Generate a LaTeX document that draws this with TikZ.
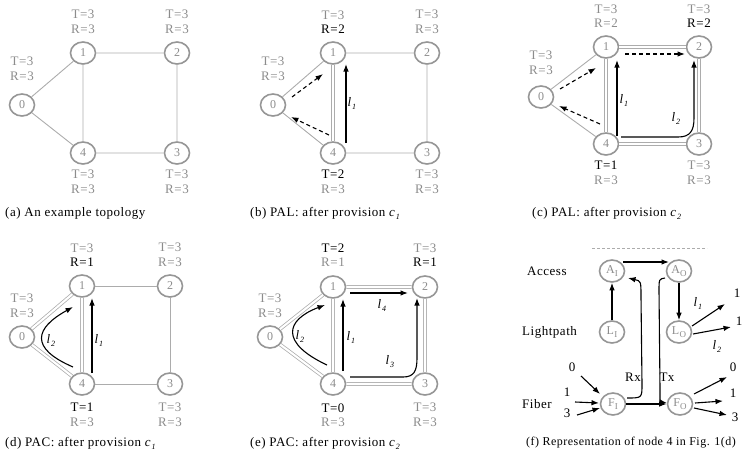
\documentclass[tikz,border=0pt]{standalone}
\usepackage{fontspec}
\setmainfont{Liberation Serif}[LetterSpace=4]
\usetikzlibrary{shapes.geometric,arrows.meta,calc}
\definecolor{ndgray}{RGB}{150,150,150}
\definecolor{edgray}{RGB}{172,172,172}
\definecolor{txgray}{RGB}{140,140,140}
% lightpath and connection names with italic subscripts
\newcommand\lp[1]{\textit{l}\kern0.4pt\raisebox{-0.5ex}{\footnotesize\textit{#1}}}
\newcommand\cv[1]{\textit{c}\kern0.4pt\raisebox{-0.5ex}{\footnotesize\textit{#1}}}
\newcommand\sub[2]{#1\kern0.2pt\raisebox{-0.45ex}{\small #2}}
\begin{document}
\begin{tikzpicture}[x=1pt,y=-1pt,
 every node/.style={font=\fontsize{13}{14.5}\selectfont},
 nd/.style={ellipse, draw=ndgray, line width=1.6pt, fill=white, minimum width=25pt,
   minimum height=22pt, inner sep=0pt, text=txgray, font=\fontsize{12}{14}\selectfont},
 lab/.style={align=center, text=txgray, inner sep=0pt},
 capt/.style={anchor=west, inner sep=0pt, text=black},
 txt/.style={inner sep=0pt, text=black},
 ed/.style={draw=edgray, line width=0.9pt},
 dbl/.style={draw=edgray, line width=0.75pt, double=white, double distance=2.1pt},
 arr/.style={draw=black, line width=1.1pt, -{Latex[length=7.5pt,width=5.5pt]}},
 darr/.style={arr, dash pattern=on 4pt off 3pt},
]
\useasboundingbox (0,0) rectangle (743,466);

% ---------------- (a) ----------------
\node[nd] (a0) at (22,105) {0};
\node[nd] (a1) at (83,53) {1};
\node[nd] (a2) at (177,53) {2};
\node[nd] (a3) at (177,153) {3};
\node[nd] (a4) at (83,153) {4};
\draw[ed] (a0)--(a1) (a0)--(a4) (a1)--(a2) (a1)--(a4) (a2)--(a3) (a4)--(a3);
\node[lab] (a0t) at (22,69) {T=3\\R=3};
\node[lab] (a1t) at (83,22) {T=3\\R=3};
\node[lab] (a2t) at (177,22) {T=3\\R=3};
\node[lab] (a4t) at (83,182) {T=3\\R=3};
\node[lab] (a3t) at (177,182) {T=3\\R=3};
\node[capt] (acap) at (5,213) {(a) An example topology};

% ---------------- (b) ----------------
\node[nd] (b0) at (273,105) {0};
\node[nd] (b1) at (333,53) {1};
\node[nd] (b2) at (427,53) {2};
\node[nd] (b3) at (427,153) {3};
\node[nd] (b4) at (333,153) {4};
\draw[ed] (b0)--(b1) (b0)--(b4) (b1)--(b2) (b2)--(b3) (b4)--(b3);
\draw[dbl] (b1)--(b4);
\node[lab] (b0t) at (273,69) {T=3\\R=3};
\node[lab] (b1t) at (333,22) {T=3\\{\color{black}R=2}};
\node[lab] (b2t) at (427,22) {T=3\\R=3};
\node[lab] (b4t) at (333,182) {{\color{black}T=2}\\R=3};
\node[lab] (b3t) at (427,182) {T=3\\R=3};
\draw[darr] ($(b0)+(19,-8)$) -- ($(b1)+(-10,21)$);
\draw[darr] ($(b4)+(-4,-18)$) -- ($(b0)+(18,12)$);
\draw[arr] ($(b4)+(13,-10)$) -- ($(b1)+(13,11)$);
\node[txt] (bl1) at (352,103) {\lp{1}};
\node[capt] (bcap) at (250,213) {(b) PAL: after provision \cv{1}};

% ---------------- (c) ----------------
\node[nd] (c0) at (541,97) {0};
\node[nd] (c1) at (606,47) {1};
\node[nd] (c2) at (699,47) {2};
\node[nd] (c3) at (699,144) {3};
\node[nd] (c4) at (606,144) {4};
\draw[ed] (c0)--(c1) (c0)--(c4);
\draw[dbl] (c1)--(c4) (c1)--(c2) (c2)--(c3) (c4)--(c3);
\node[lab] (c0t) at (541,63) {T=3\\R=3};
\node[lab] (c1t) at (606,16) {T=3\\R=2};
\node[lab] (c2t) at (699,16) {T=3\\{\color{black}R=2}};
\node[lab] (c4t) at (606,173) {{\color{black}T=1}\\R=3};
\node[lab] (c3t) at (699,173) {T=3\\R=3};
\draw[darr] ($(c0)+(19,-8)$) -- ($(c1)+(-10,21)$);
\draw[darr] ($(c4)+(-6,-20)$) -- ($(c0)+(18,9)$);
\draw[darr] ($(c1)+(19,7)$) -- ($(c2)+(-14,7)$);
\draw[arr] ($(c4)+(11,-8)$) -- ($(c1)+(11,13)$);
\draw[arr] ($(c4)+(15,-7)$) -- ($(c4)+(72,-7)$)
  .. controls ($(c4)+(84,-7)$) and ($(c4)+(88,-13)$) .. ($(c4)+(88,-26)$)
  -- ($(c2)+(-5,13)$);
\node[txt] (cl1) at (624,100) {\lp{1}};
\node[txt] (cl2) at (676,118) {\lp{2}};
\node[capt] (ccap) at (532,213) {(c) PAL: after provision \cv{2}};

% ---------------- (d) ----------------
\node[nd] (d0) at (22,337) {0};
\node[nd] (d1) at (82,286) {1};
\node[nd] (d2) at (170,286) {2};
\node[nd] (d3) at (170,384) {3};
\node[nd] (d4) at (82,384) {4};
\draw[dbl] (d0)--(d1) (d0)--(d4) (d1)--(d4);
\draw[ed] (d1)--(d2) (d2)--(d3) (d4)--(d3);
\node[lab] (d0t) at (22,306) {T=3\\R=3};
\node[lab] (d1t) at (82,255) {T=3\\{\color{black}R=1}};
\node[lab] (d2t) at (170,255) {T=3\\R=3};
\node[lab] (d4t) at (82,415) {{\color{black}T=1}\\R=3};
\node[lab] (d3t) at (170,415) {T=3\\R=3};
\draw[arr] ($(d4)+(10,-11)$) -- ($(d1)+(10,12)$);
\draw[arr] ($(d4)+(-9,-17)$) .. controls ($(d4)+(-53,-36)$) and ($(d1)+(-47,42)$) .. ($(d1)+(-9,21)$);
\node[txt] (dl2) at (51,340) {\lp{2}};
\node[txt] (dl1) at (99,340) {\lp{1}};
\node[capt] (dcap) at (5,443) {(d) PAC: after provision \cv{1}};

% ---------------- (e) ----------------
\node[nd] (e0) at (270,337) {0};
\node[nd] (e1) at (333,287) {1};
\node[nd] (e2) at (425,287) {2};
\node[nd] (e3) at (425,384) {3};
\node[nd] (e4) at (333,384) {4};
\draw[dbl] (e0)--(e1) (e0)--(e4) (e1)--(e4) (e1)--(e2) (e2)--(e3) (e4)--(e3);
\node[lab] (e0t) at (270,306) {T=3\\R=3};
\node[lab] (e1t) at (333,255) {{\color{black}T=2}\\R=1};
\node[lab] (e2t) at (425,255) {T=3\\{\color{black}R=1}};
\node[lab] (e4t) at (333,415) {{\color{black}T=0}\\R=3};
\node[lab] (e3t) at (425,415) {T=3\\R=3};
\draw[arr] ($(e4)+(10,-13)$) -- ($(e1)+(10,12)$);
\draw[arr] ($(e1)+(17,6)$) -- ($(e2)+(-17,6)$);
\draw[arr] ($(e4)+(17,-7)$) -- ($(e4)+(70,-7)$)
  .. controls ($(e4)+(81,-7)$) and ($(e4)+(84,-13)$) .. ($(e4)+(84,-26)$)
  -- ($(e2)+(-8,11)$);
\draw[arr] ($(e4)+(-6,-19)$) .. controls ($(e4)+(-53,-41)$) and ($(e1)+(-48,33)$) .. ($(e1)+(-8,18)$);
\node[txt] (el2) at (300,336) {\lp{2}};
\node[txt] (el1) at (351,337) {\lp{1}};
\node[txt] (el4) at (382,305) {\lp{4}};
\node[txt] (el3) at (390,362) {\lp{3}};
\node[capt] (ecap) at (250,443) {(e) PAC: after provision \cv{2}};

% ---------------- (f) ----------------
\draw[edgray, line width=0.7pt, dash pattern=on 3pt off 2pt] (592,248) -- (707,248);
\node[nd] (fAI) at (612,271) {\sub{A}{I}};
\node[nd] (fAO) at (679,271) {\sub{A}{O}};
\node[nd] (fLI) at (612,332) {\sub{L}{I}};
\node[nd] (fLO) at (679,332) {\sub{L}{O}};
\node[nd] (fFI) at (613,404) {\sub{F}{I}};
\node[nd] (fFO) at (680,404) {\sub{F}{O}};
\node[txt, anchor=west] (acc) at (527,271) {Access};
\node[txt, anchor=west] (lpt) at (522,332) {Lightpath};
\node[txt, anchor=west] (fib) at (522,404) {Fiber};
\node[txt] (rx) at (633,377) {Rx};
\node[txt] (tx) at (667,377) {Tx};
\node[txt] (in0) at (572,367) {0};
\node[txt] (in1) at (567,392) {1};
\node[txt] (in3) at (567,413) {3};
\node[txt] (out0) at (733,367) {0};
\node[txt] (out1) at (733,393) {1};
\node[txt] (out3) at (735,417) {3};
\node[txt] (lo1) at (737,293) {1};
\node[txt] (lo2) at (739,321) {1};
\node[txt] (fl1) at (698,303) {\lp{1}};
\node[txt] (fl2) at (717,346) {\lp{2}};
\draw[arr] ($(fAI)+(11,-9)$) -- ($(fAO)+(-10,-9)$);
\draw[arr] (fLI) -- (fAI);
\draw[arr] (fAO) -- (fLO);
\draw[arr] (fFI) -- (fFO);
% receive branch: fiber in -> access in
\draw[arr] ($(fFI)+(14,-6)$) .. controls ($(fFI)+(29,-6)$) .. ($(fFI)+(29,-20)$)
  -- ($(fAI)+(29,26)$) .. controls ($(fAI)+(29,10)$) .. ($(fAI)+(16,7)$);
% transmit branch: access out -> fiber out
\draw[arr] ($(fAO)+(-14,7)$) .. controls ($(fAO)+(-20,8)$) .. ($(fAO)+(-20,20)$)
  -- ($(fFO)+(-20,-15)$) .. controls ($(fFO)+(-20,-2)$) .. ($(fFO)+(-13,-1)$);
\draw[arr] ($(in0)+(9,9)$) -- ($(fFI)+(-13,-10)$);
\draw[arr] ($(in1)+(8,10)$) -- ($(fFI)+(-14,-1)$);
\draw[arr] ($(in3)+(10,2)$) -- ($(fFI)+(-13,4)$);
\draw[arr] ($(fFO)+(14,-10)$) -- ($(out0)+(-6,10)$);
\draw[arr] ($(fFO)+(15,-1)$) -- ($(out1)+(-10,8)$);
\draw[arr] ($(fFO)+(14,4)$) -- ($(out3)+(-8,-2)$);
\draw[arr] ($(fLO)+(13,-6)$) -- ($(lo1)+(-12,11)$);
\draw[arr] ($(fLO)+(14,2)$) -- ($(lo2)+(-8,6)$);
\node[capt, font=\fontsize{12}{14}\selectfont] (fcap) at (526,443) {(f) Representation of node 4 in Fig. 1(d)};
\end{tikzpicture}
\end{document}
